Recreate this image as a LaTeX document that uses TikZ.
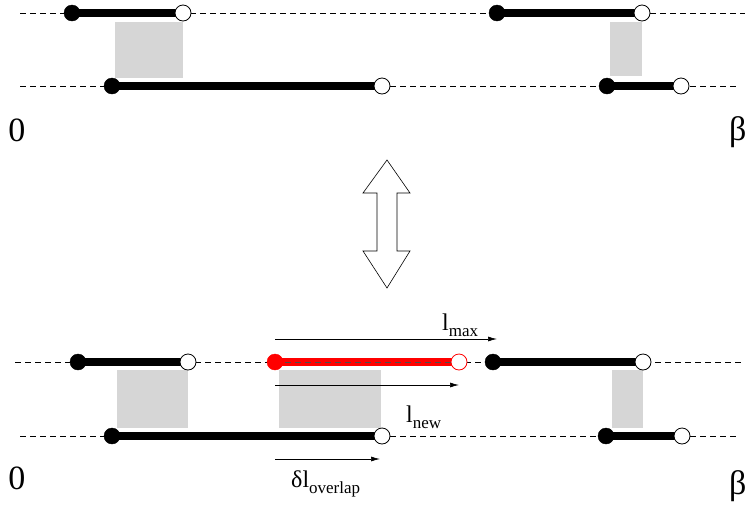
\documentclass[tikz,border=0pt]{standalone}
\usepackage{fontspec}
\setmainfont{Liberation Serif}
\usetikzlibrary{arrows.meta}
\newcommand{\lsub}[1]{\raisebox{-0.25em}{\fontsize{17}{18}\selectfont #1}}
\begin{document}
\begin{tikzpicture}[x=1pt,y=-1pt,
  axisline/.style={line width=0.7pt, dash pattern=on 6pt off 4pt},
  seg/.style={line width=8.5pt},
  redseg/.style={line width=8pt, red},
  fdot/.style={circle, fill=black, draw=black, minimum size=16pt, inner sep=0pt},
  odot/.style={circle, fill=white, draw=black, line width=0.8pt, minimum size=16pt, inner sep=0pt},
  rfdot/.style={circle, fill=red, draw=red, minimum size=16pt, inner sep=0pt},
  rodot/.style={circle, fill=white, draw=red, line width=0.8pt, minimum size=16pt, inner sep=0pt},
  overlap/.style={fill=black!16, draw=none},
  endlab/.style={font=\fontsize{34}{36}\selectfont, inner sep=0pt},
  lab/.style={font=\fontsize{24}{26}\selectfont, inner sep=0pt},
  meas/.style={line width=0.7pt, -{Latex[length=9pt,width=5pt]}}
]
\useasboundingbox (0,0) rectangle (745,504);
% ---------- top diagram ----------
\fill[overlap] (115,22) rectangle (183,78);
\fill[overlap] (610,22) rectangle (642,76);
\coordinate (ta0) at (20,13);  \coordinate (ta1) at (745,13);
\coordinate (tb0) at (20,86);  \coordinate (tb1) at (737,86);
\draw[axisline] (ta0) -- (ta1);
\draw[axisline] (tb0) -- (tb1);
\path (72,13) coordinate (p1) (183,13) coordinate (q1)
      (497,13) coordinate (p2) (642,13) coordinate (q2)
      (112,86) coordinate (p3) (382,86) coordinate (q3)
      (607,86) coordinate (p4) (681,86) coordinate (q4);
\draw[seg] (p1) -- (q1); \draw[seg] (p2) -- (q2);
\draw[seg] (p3) -- (q3); \draw[seg] (p4) -- (q4);
\node[fdot] (a1) at (p1) {}; \node[odot] (b1) at (q1) {};
\node[fdot] (a2) at (p2) {}; \node[odot] (b2) at (q2) {};
\node[fdot] (a3) at (p3) {}; \node[odot] (b3) at (q3) {};
\node[fdot] (a4) at (p4) {}; \node[odot] (b4) at (q4) {};
\node[endlab] (zero1) at (17,130) {0};
\node[endlab, anchor=west] (beta1) at (729,132) {β};
% ---------- double arrow ----------
\draw[line width=0.6pt, fill=white] (387,160) -- (410,193) -- (397,193) -- (397,251) -- (410,251)
  -- (387,288) -- (363,251) -- (377,251) -- (377,193) -- (363,193) -- cycle;
% ---------- bottom diagram ----------
\fill[overlap] (117,370) rectangle (188,428);
\fill[overlap] (279,370) rectangle (381,428);
\fill[overlap] (612,370) rectangle (643,428);
\coordinate (ba0) at (15,362);  \coordinate (ba1) at (745,362);
\coordinate (bb0) at (20,436);  \coordinate (bb1) at (737,436);
\draw[axisline] (ba0) -- (ba1);
\draw[axisline] (bb0) -- (bb1);
\path (78,362) coordinate (r1) (188,362) coordinate (s1)
      (275,362) coordinate (rr) (459,362) coordinate (sr)
      (493,362) coordinate (r2) (643,362) coordinate (s2)
      (112,436) coordinate (r3) (382,436) coordinate (s3)
      (606,436) coordinate (r4) (682,436) coordinate (s4);
\draw[seg] (r1) -- (s1); \draw[seg] (r2) -- (s2);
\draw[seg] (r3) -- (s3); \draw[seg] (r4) -- (s4);
\draw[redseg] (rr) -- (sr);
\draw[axisline, line width=0.5pt, black!70] (rr) -- (sr);
\node[fdot] (c1) at (r1) {}; \node[odot] (d1) at (s1) {};
\node[rfdot] (cr) at (rr) {}; \node[rodot] (dr) at (sr) {};
\node[fdot] (c2) at (r2) {}; \node[odot] (d2) at (s2) {};
\node[fdot] (c3) at (r3) {}; \node[odot] (d3) at (s3) {};
\node[fdot] (c4) at (r4) {}; \node[odot] (d4) at (s4) {};
% measurement arrows
\coordinate (m1s) at (275,339); \coordinate (m1e) at (497,339);
\coordinate (m2s) at (275,385); \coordinate (m2e) at (459,385);
\coordinate (m3s) at (275,459); \coordinate (m3e) at (380,459);
\draw[meas] (m1s) -- (m1e);
\draw[meas] (m2s) -- (m2e);
\draw[meas] (m3s) -- (m3e);
\node[lab, anchor=base west] (lmax) at (442,330) {l\lsub{max}};
\node[lab, anchor=base west] (lnew) at (406,422) {l\lsub{new}};
\node[lab, anchor=base west] (dl) at (291,487) {δl\lsub{overlap}};
\node[endlab] (zero2) at (17,478) {0};
\node[endlab, anchor=west] (beta2) at (729,486) {β};
\end{tikzpicture}
\end{document}
